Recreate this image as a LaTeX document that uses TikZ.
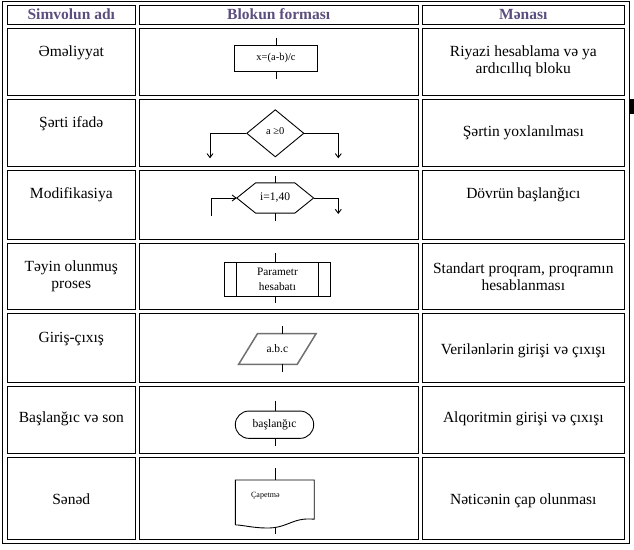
\documentclass[tikz,border=0pt]{standalone}
\usepackage{fontspec}
\setmainfont{Liberation Serif}
\usetikzlibrary{arrows.meta,shapes.geometric}
\definecolor{headcol}{HTML}{5B4D7D}
\definecolor{iogray}{HTML}{707070}

\begin{document}
\begin{tikzpicture}[x=1pt,y=-1pt,line width=0.9pt,
  head/.style={font=\fontsize{15.5}{17}\selectfont\bfseries,text=headcol,inner sep=0pt},
  txt/.style={font=\fontsize{15.5}{17}\selectfont,align=center,inner sep=0pt},
  blk/.style={draw,inner sep=0pt},
  ghost/.style={inner sep=0pt},
  flow/.style={-{Straight Barb[length=4pt,width=6pt]}}]
  \useasboundingbox (0,0) rectangle (634,549);
  % table
  \draw (2.5,1.5) rectangle (629.5,543.5);
  \foreach \ya/\yb in {5/24,28.3/95,99/166.5,170.3/239.3,243.3/309,313.3/382.7,386.7/453.3,457.7/539}
    \foreach \xa/\xb in {7/135.5,139/418.5,422/624.5}
      \draw (\xa,\ya) rectangle (\xb,\yb);
  \fill (630,99) rectangle (633.5,114);
  % headers
  \node (h1) [head] at (71.3,14) {Simvolun adı};
  \node (h2) [head] at (278.7,14) {Blokun forması};
  \node (h3) [head] at (523.3,14) {Mənası};
  % names
  \node (name1) [txt] at (71.3,53) {Əməliyyat};
  \node (name2) [txt] at (71.3,124) {Şərti ifadə};
  \node (name3) [txt] at (71.3,195) {Modifikasiya};
  \node (name4) [txt] at (71.3,276.5) {Təyin olunmuş\\proses};
  \node (name5) [txt] at (71.3,339) {Giriş-çıxış};
  \node (name6) [txt] at (71.3,419) {Başlanğıc və son};
  \node (name7) [txt] at (71.3,499) {Sənəd};
  % meanings
  \node (mean1) [txt] at (523.3,61) {Riyazi hesablama və ya\\ardıcıllıq bloku};
  \node (mean2) [txt] at (523.3,132.5) {Şərtin yoxlanılması};
  \node (mean3) [txt] at (523.3,195) {Dövrün başlanğıcı};
  \node (mean4) [txt] at (523.3,276.5) {Standart proqram, proqramın\\hesablanması};
  \node (mean5) [txt] at (523.3,350.5) {Verilənlərin girişi və çıxışı};
  \node (mean6) [txt] at (523.3,419) {Alqoritmin girişi və çıxışı};
  \node (mean7) [txt] at (523.3,500.5) {Nəticənin çap olunması};
  % operation
  \node (opr) [blk,minimum width=83.4pt,minimum height=26pt,font=\fontsize{10.5}{13}\selectfont] at (276,58) {x=(a-b)/c};
  \coordinate (oprin) at (276,37.7);
  \coordinate (oprout) at (276,79.3);
  \draw (oprin) -- (opr.north);
  \draw (opr.south) -- (oprout);
  % condition
  \node (cond) [blk,diamond,minimum width=57.3pt,minimum height=47.3pt,font=\fontsize{10.5}{13}\selectfont] at (275.3,133.3) {\raisebox{4pt}{a ≥0}};
  \coordinate (condl) at (210,158.3);
  \coordinate (condr) at (338.3,158.3);
  \draw[flow] (cond.west) -| (condl);
  \draw[flow] (cond.east) -| (condr);
  % modification
  \node (mod) [ghost,minimum width=38.3pt,minimum height=29.4pt,font=\fontsize{11.6}{14}\selectfont] at (275.2,198) {i=1,40};
  \draw ([xshift=-18.8pt]mod.west) -- (mod.north west) -- (mod.north east) -- ([xshift=18.8pt]mod.east)
    -- (mod.south east) -- (mod.south west) -- cycle;
  \coordinate (modin) at (275.2,176);
  \coordinate (modout) at (275.2,221);
  \coordinate (modl) at (211.7,215.7);
  \coordinate (modr) at (338.3,214);
  \draw (modin) -- (mod.north);
  \draw (mod.south) -- (modout);
  \draw[flow] (modl) |- ([xshift=-18.8pt]mod.west);
  \draw[flow] ([xshift=18.8pt]mod.east) -| (modr);
  % predefined process
  \node (proc) [blk,minimum width=105.6pt,minimum height=33.7pt,align=center,font=\fontsize{11.3}{14.4}\selectfont] at (277.5,279.2) {Parametr\\hesabatı};
  \draw ([xshift=12.6pt]proc.north west) -- ([xshift=12.6pt]proc.south west);
  \draw ([xshift=-12.6pt]proc.north east) -- ([xshift=-12.6pt]proc.south east);
  \coordinate (procin) at (275.3,253.3);
  \coordinate (procout) at (275.3,303.3);
  \draw (procin) -- (procin |- proc.north);
  \draw (procout |- proc.south) -- (procout);
  % input / output
  \node (io) [ghost,minimum width=57.7pt,minimum height=30pt,font=\fontsize{11.5}{14}\selectfont] at (277.35,349) {a.b.c};
  \draw[iogray,line width=1.5pt] ([xshift=-9.5pt]io.south west) -- ([xshift=9.5pt]io.north west)
    -- ([xshift=9.5pt]io.north east) -- ([xshift=-9.5pt]io.south east) -- cycle;
  \coordinate (ioin) at (282.7,326);
  \coordinate (ioout) at (282.7,372.3);
  \draw (ioin) -- (ioin |- io.north);
  \draw (ioout |- io.south) -- (ioout);
  % terminator
  \node (term) [blk,rounded corners=13.6pt,minimum width=78.4pt,minimum height=27.3pt,font=\fontsize{11.6}{14}\selectfont] at (274.5,424.7) {başlanğıc};
  \coordinate (termin) at (275.3,401);
  \coordinate (termout) at (275.3,445.7);
  \draw (termin) -- (termin |- term.north);
  \draw (termout |- term.south) -- (termout);
  % document
  \node (doc) [ghost,anchor=north west,inner xsep=15.4pt,text width=47.2pt,align=left,
    text height=17pt,text depth=27pt,font=\fontsize{8}{10}\selectfont] at (235.3,480) {Çapetmə};
  \draw (doc.south west) -- (doc.north west) -- (doc.north east) -- ([yshift=5.7pt]doc.south east)
    .. controls (292,517) and (288,528.5) .. (266,528) .. controls (252,527.8) and (243,525) .. (doc.south west);
  \coordinate (docin) at (275.3,468.3);
  \coordinate (docbot) at (275.3,527.2);
  \coordinate (docout) at (275.3,534);
  \draw (docin) -- (docin |- doc.north);
  \draw (docbot) -- (docout);
\end{tikzpicture}
\end{document}
